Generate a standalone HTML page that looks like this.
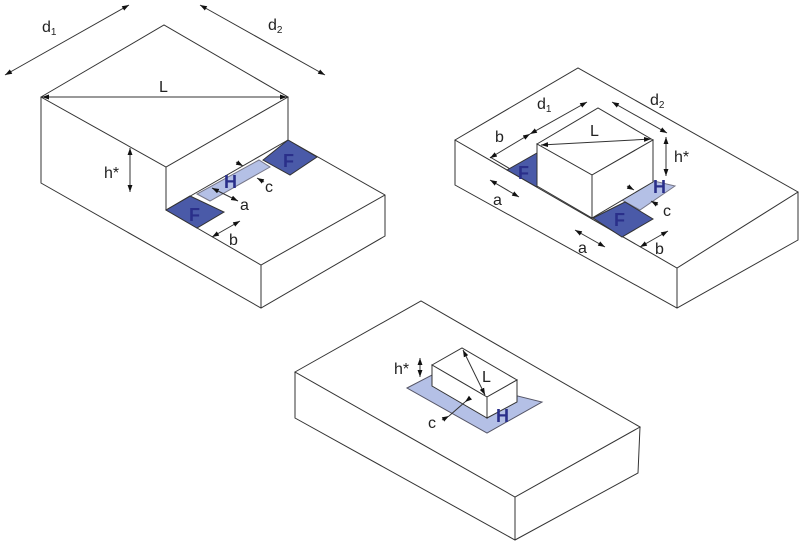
<!DOCTYPE html>
<html><head><meta charset="utf-8"><style>
html,body{margin:0;padding:0;background:#fff}
svg{display:block}
text{font-family:"Liberation Sans",sans-serif;fill:#222}
.b{font-weight:bold;fill:#2a2f8a}
</style></head><body>
<svg width="800" height="543" viewBox="0 0 800 543" xmlns="http://www.w3.org/2000/svg">
<defs>
<marker id="a" viewBox="0 0 10 10" refX="10" refY="5" markerWidth="7" markerHeight="7" orient="auto-start-reverse"><path d="M0,1.5 L10,5 L0,8.5z" fill="#111"/></marker>
</defs>
<g fill="none" stroke="#333" stroke-width="1">
<!-- Figure 1 -->
<polygon points="41,97 164,25 288,97 166,167" fill="#fff"/>
<polyline points="41,97 41,183 261,308 385,236 385,195 288,140 288,97"/>
<polyline points="166,167 166,210 261,265 385,195"/>
<line x1="261" y1="265" x2="261" y2="308"/>
<polygon points="197,194 210,201 270,167 259,160" fill="#b4c0e6" stroke="#778"/>
<polygon points="288,140 317,157 290,175 263,160" fill="#4a5aa8" stroke="#333"/>
<polygon points="166,210 190,196 224,212 197,228" fill="#4a5aa8" stroke="#333"/>
<line x1="166" y1="210" x2="288" y2="140"/>
<line x1="5" y1="75" x2="129" y2="5" marker-start="url(#a)" marker-end="url(#a)"/>
<line x1="200" y1="5" x2="325" y2="75" marker-start="url(#a)" marker-end="url(#a)"/>
<line x1="42" y1="97" x2="287" y2="97" marker-start="url(#a)" marker-end="url(#a)"/>
<line x1="130" y1="148" x2="130" y2="192" marker-start="url(#a)" marker-end="url(#a)"/>
<line x1="212" y1="188" x2="238" y2="201" marker-start="url(#a)" marker-end="url(#a)"/>
<line x1="212" y1="237" x2="240" y2="221" marker-start="url(#a)" marker-end="url(#a)"/>
<line x1="236" y1="162" x2="243" y2="166" marker-end="url(#a)"/>
<line x1="264" y1="182" x2="257" y2="178" marker-end="url(#a)"/>
<!-- Figure 2 -->
<polygon points="455,140 578,68 798,192 677,268" fill="#fff"/>
<polyline points="455,140 455,185 677,308 798,240 798,192"/>
<line x1="677" y1="268" x2="677" y2="308"/>
<line x1="490" y1="157" x2="593" y2="218"/>
<polygon points="622,200 654,181 675,186 640,210" fill="#b4c0e6" stroke="#778"/>
<polygon points="507,170 537,153 537,187" fill="#4a5aa8" stroke="#333"/>
<polygon points="593,218 625,202 653,219 622,237" fill="#4a5aa8" stroke="#333"/>
<polygon points="537,144 598,108 653,140 592,175" fill="#fff"/>
<polygon points="537,144 592,175 592,218 537,186" fill="#fff"/>
<polygon points="592,175 653,140 653,182 592,218" fill="#fff"/>
<line x1="490" y1="158" x2="530" y2="134" marker-start="url(#a)" marker-end="url(#a)"/>
<line x1="530" y1="134" x2="587" y2="102" marker-start="url(#a)" marker-end="url(#a)"/>
<line x1="612" y1="102" x2="667" y2="133" marker-start="url(#a)" marker-end="url(#a)"/>
<line x1="541" y1="145" x2="651" y2="139" marker-start="url(#a)" marker-end="url(#a)"/>
<line x1="666" y1="137" x2="666" y2="176" marker-start="url(#a)" marker-end="url(#a)"/>
<line x1="490" y1="180" x2="519" y2="197" marker-start="url(#a)" marker-end="url(#a)"/>
<line x1="575" y1="230" x2="605" y2="247" marker-start="url(#a)" marker-end="url(#a)"/>
<line x1="640" y1="247" x2="668" y2="231" marker-start="url(#a)" marker-end="url(#a)"/>
<line x1="627" y1="186" x2="634" y2="190" marker-end="url(#a)"/>
<line x1="658" y1="205" x2="651" y2="201" marker-end="url(#a)"/>
<!-- Figure 3 -->
<polygon points="295,372 421,301 640,427 515,497" fill="#fff"/>
<polyline points="295,372 295,418 515,540 638,473 640,427"/>
<line x1="515" y1="497" x2="515" y2="540"/>
<polygon points="407,388 432,375 542,402 487,433" fill="#b4c0e6" stroke="#556"/>
<polygon points="432,365 462,348 517,380 487,397" fill="#fff"/>
<polygon points="432,365 487,397 487,418 432,386" fill="#fff"/>
<polygon points="487,397 517,380 517,402 487,418" fill="#fff"/>
<line x1="420" y1="358" x2="420" y2="377" marker-start="url(#a)" marker-end="url(#a)"/>
<line x1="463" y1="350" x2="485" y2="395" marker-start="url(#a)" marker-end="url(#a)"/>
<line x1="470" y1="398" x2="465" y2="402" marker-end="url(#a)"/>
<line x1="442" y1="420" x2="449" y2="416" marker-end="url(#a)"/>
<line x1="449" y1="416" x2="465" y2="402"/>
</g>
<g font-size="16">
<text x="42" y="32">d<tspan font-size="10" dy="3">1</tspan></text>
<text x="268" y="30">d<tspan font-size="10" dy="3">2</tspan></text>
<text x="159" y="92">L</text>
<text x="104" y="178">h*</text>
<text x="265" y="192">c</text>
<text x="240" y="210">a</text>
<text x="229" y="245">b</text>
<text x="537" y="109">d<tspan font-size="10" dy="3">1</tspan></text>
<text x="650" y="105">d<tspan font-size="10" dy="3">2</tspan></text>
<text x="590" y="136">L</text>
<text x="674" y="162">h*</text>
<text x="495" y="142">b</text>
<text x="493" y="205">a</text>
<text x="578" y="253">a</text>
<text x="655" y="254">b</text>
<text x="663" y="216">c</text>
<text x="394" y="374">h*</text>
<text x="482" y="382">L</text>
<text x="428" y="428">c</text>
</g>
<g font-size="18" class="b">
<text class="b" x="283" y="167">F</text>
<text class="b" x="189" y="221">F</text>
<text class="b" x="224" y="188">H</text>
<text class="b" x="518" y="179">F</text>
<text class="b" x="614" y="226">F</text>
<text class="b" x="653" y="193">H</text>
<text class="b" x="496" y="422">H</text>
</g>
</svg>
</body></html>
